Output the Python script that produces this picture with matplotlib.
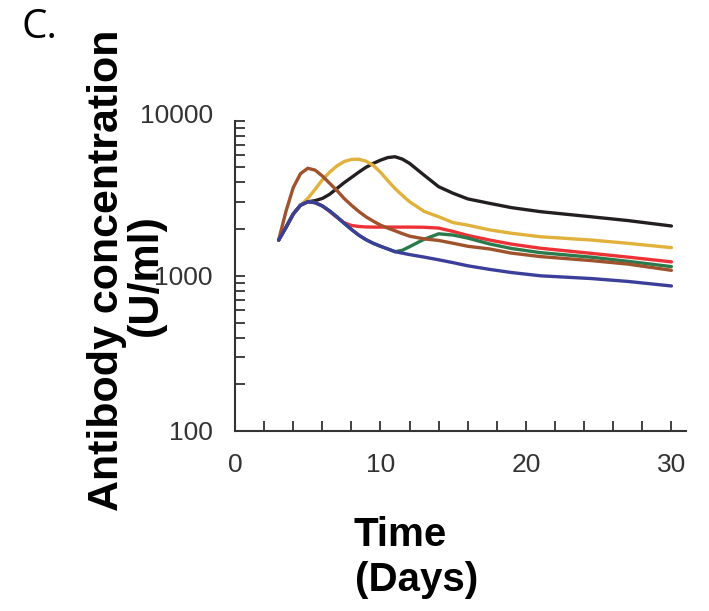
import numpy as np
import matplotlib
matplotlib.use("Agg")
import matplotlib.pyplot as plt
import matplotlib.transforms as mtransforms
from matplotlib.ticker import FixedLocator, NullFormatter

plt.rcParams['font.family'] = ['Liberation Sans', 'DejaVu Sans']

# time points (days)
days = [3, 3.5, 4, 4.5, 5, 5.5, 6, 6.5, 7, 7.5, 8, 8.5, 9, 9.5, 10, 10.5, 11, 11.5,
        12, 13, 14, 15, 16, 17.5, 19, 21, 24.5, 27, 30]

# antibody concentration (U/ml)
black = [1700, 2050, 2500, 2850, 3000, 3050, 3150, 3350, 3650, 3980, 4300, 4650, 5000, 5300,
         5560, 5780, 5850, 5650, 5300, 4450, 3750, 3400, 3130, 2930, 2750, 2590, 2400, 2270, 2094]
yellow = [1700, 2050, 2500, 2850, 3150, 3600, 4150, 4650, 5100, 5450, 5620, 5640, 5480, 5150,
          4650, 4100, 3650, 3300, 3000, 2600, 2400, 2200, 2120, 1977, 1880, 1785, 1700, 1620, 1518]
red = [1700, 2050, 2500, 2850, 3000, 2960, 2820, 2600, 2380, 2200, 2110, 2080, 2065, 2060,
       2060, 2060, 2060, 2060, 2060, 2055, 2030, 1930, 1820, 1700, 1600, 1505, 1395, 1320, 1230]
green = [1700, 2050, 2500, 2850, 3000, 2960, 2820, 2620, 2400, 2180, 1990, 1830, 1710, 1620,
         1550, 1490, 1430, 1460, 1540, 1720, 1865, 1830, 1750, 1604, 1500, 1410, 1318, 1240, 1146]
brown = [1700, 2600, 3700, 4550, 4930, 4800, 4400, 3950, 3550, 3150, 2850, 2600, 2400, 2250,
         2120, 2030, 1950, 1870, 1800, 1730, 1690, 1620, 1550, 1490, 1400, 1330, 1253, 1190, 1085]
blue = [1700, 2050, 2500, 2850, 3000, 2960, 2820, 2620, 2400, 2180, 1990, 1830, 1710, 1620,
        1550, 1490, 1430, 1400, 1370, 1320, 1268, 1215, 1160, 1100, 1050, 1000, 960, 920, 860]

series = [
    (black, "#231f20"),
    (yellow, "#e2b13c"),
    (red, "#ec3237"),
    (green, "#2a7a4b"),
    (brown, "#a0522d"),
    (blue, "#3b3f9a"),
]

fig = plt.figure(figsize=(7.09, 6.11), dpi=100)
ax = fig.add_axes([0.3315, 0.2946, 0.636, 0.508])

for vals, col in series:
    ax.plot(days, vals, color=col, lw=2.4, solid_capstyle='round', solid_joinstyle='round')

ax.set_yscale('log')
ax.set_ylim(100, 10000)
ax.set_xlim(0, 31)

ax.yaxis.set_major_locator(FixedLocator([100, 1000, 10000]))
ax.set_yticklabels(["100", "1000", "10000"])
minor_y = [m * 10**e for e in (2, 3) for m in range(2, 10)]
ax.yaxis.set_minor_locator(FixedLocator(minor_y))
ax.yaxis.set_minor_formatter(NullFormatter())

ax.set_xticks([0, 10, 20, 30])
ax.xaxis.set_minor_locator(FixedLocator(np.arange(0, 31, 2)))

for s in ['top', 'right']:
    ax.spines[s].set_visible(False)
for s in ['left', 'bottom']:
    ax.spines[s].set_color('#333333')
    ax.spines[s].set_linewidth(1.5)

ax.tick_params(which='both', direction='in', length=7, width=1.3, color='#333333')
ax.tick_params(axis='both', which='major', labelsize=19, labelcolor='#333333', pad=16)

# top label sits a bit above its tick in the original
top_lbl = ax.get_yticklabels()[-1]
top_lbl.set_transform(top_lbl.get_transform() +
                      mtransforms.ScaledTranslation(0, 7 / 100, fig.dpi_scale_trans))

fig.text(0.03, 0.955, "C.", fontsize=29, family=['Open Sans', 'DejaVu Sans'], ha='left', va='center')

fig.text(0.151, 0.558, "Antibody concentration", fontsize=31, fontweight='bold',
         rotation=90, ha='center', va='center')
fig.text(0.206, 0.55, "(U/ml)", fontsize=31, fontweight='bold',
         rotation=90, ha='center', va='center')

fig.text(0.565, 0.124, "Time", fontsize=29, fontweight='bold', ha='center', va='center')
fig.text(0.588, 0.051, "(Days)", fontsize=29, fontweight='bold', ha='center', va='center')

plt.savefig("out.png", dpi=100)
